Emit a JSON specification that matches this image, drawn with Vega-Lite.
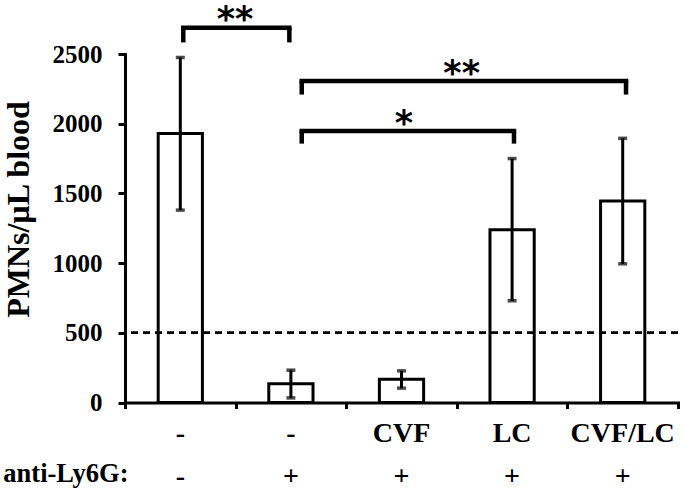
{
  "$schema": "https://vega.github.io/schema/vega-lite/v6.json",
  "autosize": {"type": "none"},
  "width": 553,
  "height": 348.5,
  "padding": {"left": 125, "top": 54, "right": 5, "bottom": 86.5},
  "background": "white",
  "config": {"view": {"stroke": null}, "font": "Liberation Serif"},
  "datasets": {
    "bars": [
      {"label": "-|-", "mean": 1930, "lo": 1380, "hi": 2475},
      {"label": "-|+", "mean": 135, "lo": 33, "hi": 232},
      {"label": "CVF|+", "mean": 166, "lo": 103, "hi": 227},
      {"label": "LC|+", "mean": 1240, "lo": 730, "hi": 1750},
      {"label": "CVF/LC|+", "mean": 1445, "lo": 995, "hi": 1895}
    ],
    "brackets": [
      {"from": 0.527, "to": 1.486, "top": 2688, "drop": 2583, "stars": "**", "starAt": 0.995},
      {"from": 1.598, "to": 4.53, "top": 2306, "drop": 2209, "stars": "**", "starAt": 3.044},
      {"from": 1.598, "to": 3.517, "top": 1947, "drop": 1857, "stars": "*", "starAt": 2.522}
    ]
  },
  "layer": [
    {
      "data": {"name": "bars"},
      "encoding": {
        "x": {
          "field": "label",
          "type": "nominal",
          "sort": null,
          "scale": {"paddingInner": 0, "paddingOuter": 0},
          "axis": {
            "orient": "bottom",
            "domain": false,
            "ticks": false,
            "tickSize": 0,
            "labelPadding": 38.5,
            "labelFont": "Liberation Serif",
            "labelFontWeight": "bold",
            "labelFontSize": 28,
            "labelColor": "black",
            "labelBaseline": "alphabetic",
            "labelLineHeight": 43,
            "labelAngle": 0,
            "labelOverlap": false,
            "labelBound": false,
            "labelLimit": 300,
            "labelExpr": "split(datum.value, '|')",
            "title": "anti-Ly6G:",
            "titleX": 3,
            "titleY": 79,
            "titleAlign": "right",
            "titleAnchor": null,
            "titleBaseline": "alphabetic",
            "titleFont": "Liberation Serif",
            "titleFontWeight": "bold",
            "titleFontSize": 26.5,
            "titleColor": "black"
          }
        }
      },
      "layer": [
        {
          "mark": {"type": "bar", "fill": "white", "stroke": "black", "strokeWidth": 3, "width": {"band": 0.4}},
          "encoding": {
            "y": {
              "field": "mean",
              "type": "quantitative",
              "scale": {"domain": [0, 2500], "nice": false},
              "axis": {
                "values": [0, 500, 1000, 1500, 2000, 2500],
                "format": "d",
                "grid": false,
                "tickSize": 7,
                "tickWidth": 3,
                "tickColor": "black",
                "domainWidth": 3,
                "domainColor": "black",
                "domainCap": "square",
                "labelFont": "Liberation Serif",
                "labelFontWeight": "bold",
                "labelFontSize": 25,
                "labelColor": "black",
                "labelPadding": 16,
                "title": "PMNs/µL blood",
                "titleFont": "Liberation Serif",
                "titleFontWeight": "bold",
                "titleFontSize": 32,
                "titleColor": "black",
                "titleAngle": -90,
                "titleX": -97,
                "titleY": 155,
                "titleAlign": "center",
                "titleAnchor": null,
                "titleBaseline": "alphabetic"
              }
            }
          }
        },
        {
          "mark": {"type": "rule", "stroke": "black", "strokeWidth": 3},
          "encoding": {
            "y": {"field": "lo", "type": "quantitative", "title": "PMNs/µL blood"},
            "y2": {"field": "hi"}
          }
        },
        {
          "mark": {"type": "tick", "color": "black", "size": 9, "thickness": 3.5, "orient": "horizontal"},
          "encoding": {"y": {"field": "lo", "type": "quantitative", "title": "PMNs/µL blood"}}
        },
        {
          "mark": {"type": "tick", "color": "black", "size": 9, "thickness": 3.5, "orient": "horizontal"},
          "encoding": {"y": {"field": "hi", "type": "quantitative", "title": "PMNs/µL blood"}}
        },
        {
          "mark": {"type": "rule", "stroke": "black", "strokeWidth": 2, "strokeDash": [7, 5]},
          "encoding": {"x": null, "y": {"datum": 500, "type": "quantitative"}}
        }
      ]
    },
    {
      "data": {"name": "brackets"},
      "encoding": {
        "x": {
          "field": "from",
          "type": "quantitative",
          "scale": {"domain": [0, 5], "nice": false, "zero": false},
          "axis": {
            "orient": "bottom",
            "values": [0, 1, 2, 3, 4, 5],
            "labels": false,
            "grid": false,
            "tickSize": 6,
            "tickWidth": 3,
            "tickColor": "black",
            "domainWidth": 3,
            "domainColor": "black",
            "domainCap": "square",
            "title": null
          }
        }
      },
      "layer": [
        {
          "mark": {"type": "rule", "stroke": "black", "strokeWidth": 4.5, "strokeCap": "square", "clip": false},
          "encoding": {
            "x2": {"field": "to"},
            "y": {"field": "top", "type": "quantitative", "title": "PMNs/µL blood"}
          }
        },
        {
          "mark": {"type": "rule", "stroke": "black", "strokeWidth": 4.5, "clip": false},
          "encoding": {
            "y": {"field": "drop", "type": "quantitative", "title": "PMNs/µL blood"},
            "y2": {"field": "top"}
          }
        },
        {
          "mark": {"type": "rule", "stroke": "black", "strokeWidth": 4.5, "clip": false},
          "encoding": {
            "x": {"field": "to", "type": "quantitative"},
            "y": {"field": "drop", "type": "quantitative", "title": "PMNs/µL blood"},
            "y2": {"field": "top"}
          }
        },
        {
          "mark": {"type": "text", "font": "DejaVu Sans", "fontWeight": "bold", "fontSize": 35, "baseline": "middle", "align": "center", "dy": -7.5, "color": "black", "clip": false},
          "encoding": {
            "x": {"field": "starAt", "type": "quantitative"},
            "y": {"field": "top", "type": "quantitative", "title": "PMNs/µL blood"},
            "text": {"field": "stars"}
          }
        }
      ]
    }
  ],
  "resolve": {"scale": {"x": "independent"}, "axis": {"x": "independent"}}
}
